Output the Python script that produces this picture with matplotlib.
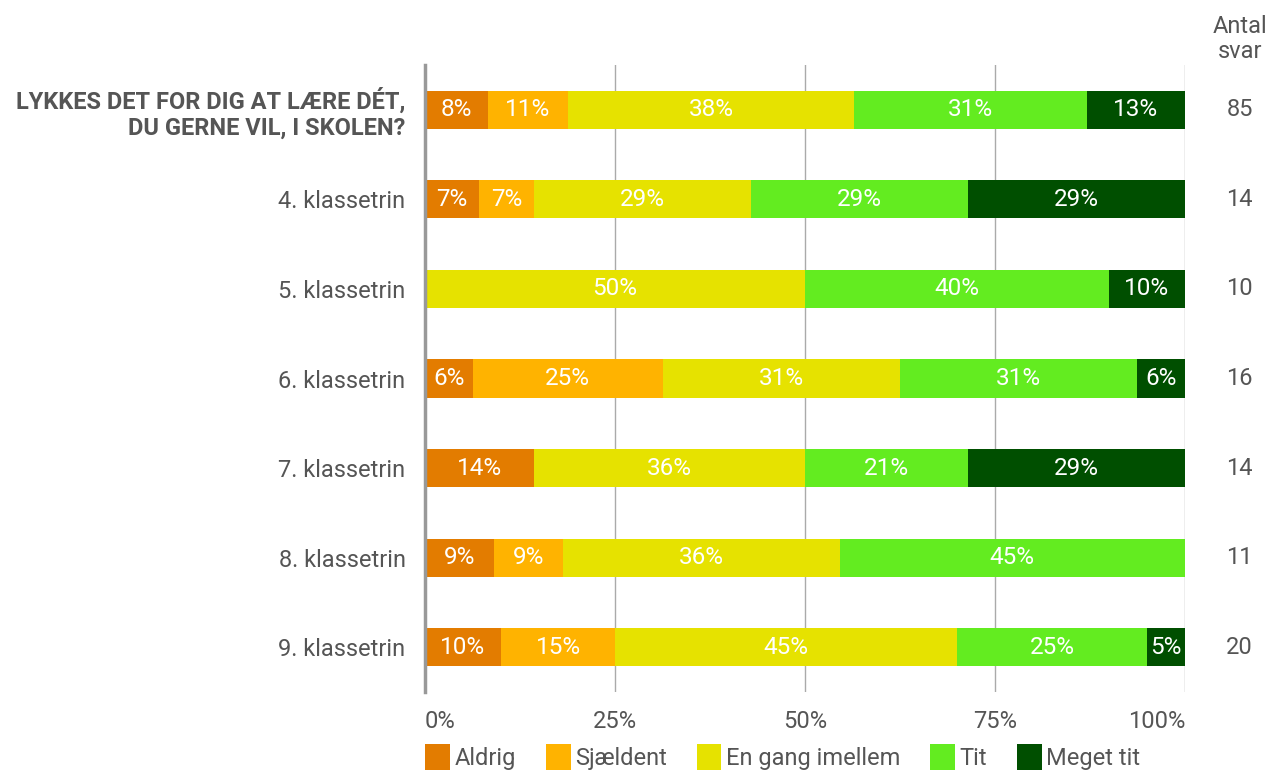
import numpy as np
import matplotlib.pyplot as plt
from matplotlib.patches import Patch
from matplotlib.transforms import blended_transform_factory

plt.rcParams['font.family'] = ['Roboto', 'DejaVu Sans']

# Data: antal svar pr. svarkategori
rækker = ['LYKKES DET FOR DIG AT LÆRE DÉT,\nDU GERNE VIL, I SKOLEN?',
          '4. klassetrin', '5. klassetrin', '6. klassetrin', '7. klassetrin',
          '8. klassetrin', '9. klassetrin']
kategorier = ['Aldrig', 'Sjældent', 'En gang imellem', 'Tit', 'Meget tit']
aldrig = [7, 1, 0, 1, 2, 1, 2]
sjaeldent = [9, 1, 0, 4, 0, 1, 3]
en_gang = [32, 4, 5, 5, 5, 4, 9]
tit = [26, 4, 4, 5, 3, 5, 5]
meget_tit = [11, 4, 1, 1, 4, 0, 1]
farver = ['#E37C00', '#FFB300', '#E6E200', '#63EC20', '#004F00']

data = np.array([aldrig, sjaeldent, en_gang, tit, meget_tit], dtype=float)
antal = data.sum(axis=0)
andel = data / antal

fs = 17
fig = plt.figure(figsize=(12.69, 7.72), dpi=100)
ax = fig.add_axes([425 / 1269, 80 / 772, 760 / 1269, 627 / 772])

y = np.arange(len(rækker))
venstre = np.zeros(len(rækker))
for i, kat in enumerate(kategorier):
    ax.barh(y, andel[i], left=venstre, height=0.425, color=farver[i], zorder=3)
    for j in range(len(rækker)):
        if andel[i, j] > 0:
            ax.text(venstre[j] + andel[i, j] / 2, y[j], f'{round(andel[i, j] * 100)}%',
                    ha='center', va='center', color='white', fontsize=fs + 0.5, zorder=4)
    venstre += andel[i]

ax.set_xlim(0, 1)
ax.set_ylim(len(rækker) - 0.5, -0.5)
ax.set_xticks([0, 0.25, 0.5, 0.75, 1])
ax.set_xticklabels(['0%', '25%', '50%', '75%', '100%'])
ax.set_yticks(y)
ax.set_yticklabels(rækker)
ax.tick_params(length=0, labelsize=fs, colors='#555555')
ax.tick_params(axis='x', pad=13)
ax.tick_params(axis='y', pad=14)
xl = ax.get_xticklabels()
xl[0].set_ha('left')
xl[-1].set_ha('right')
lbl = ax.get_yticklabels()[0]
lbl.set_fontweight('bold')
lbl.set_linespacing(1.15)
ax.grid(axis='x', color='#aaaaaa', linewidth=1, zorder=0)
for s in ['top', 'right', 'bottom']:
    ax.spines[s].set_visible(False)
ax.spines['left'].set_color('#999999')
ax.spines['left'].set_linewidth(2.5)
ax.spines['left'].set_zorder(5)

trans = blended_transform_factory(ax.transAxes, ax.transData)
for j, n in enumerate(antal):
    ax.text(1.072, y[j], f'{int(n)}', transform=trans, ha='center', va='center',
            fontsize=fs, color='#555555')
fig.text(1240 / 1269, 1 - 39 / 772, 'Antal\nsvar', ha='center', va='center',
         fontsize=fs, color='#555555', linespacing=1.15)

handles = [Patch(facecolor=f, edgecolor='none') for f in farver]
fig.legend(handles, kategorier, loc='lower left', bbox_to_anchor=(423 / 1269, 0.0),
           ncol=5, frameon=False, fontsize=fs, handlelength=1.05, handleheight=1.3,
           handletextpad=0.2, columnspacing=1.25, labelcolor='#555555', borderpad=0.1,
           borderaxespad=0)

fig.savefig('out.png', dpi=100)
